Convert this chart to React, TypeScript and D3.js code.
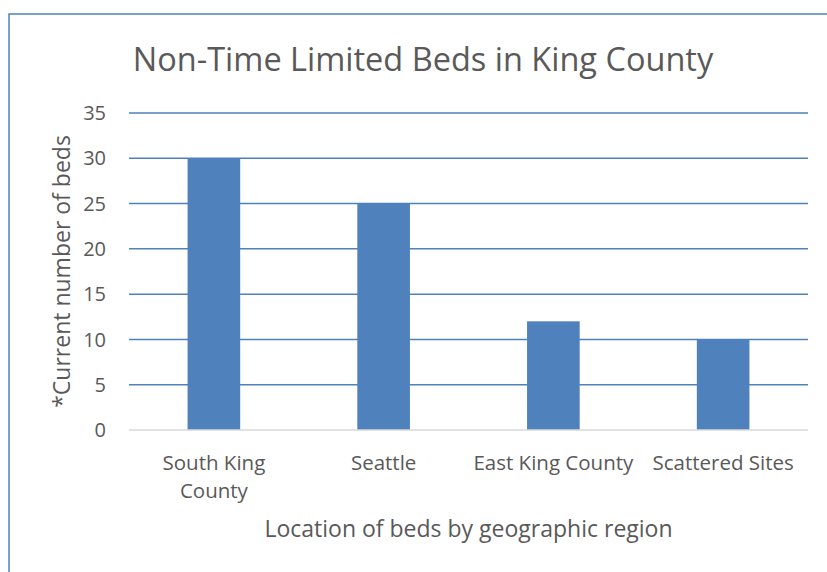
import React from 'react';
import * as d3 from 'd3';

// chart data
const categories: string[][] = [['South King', 'County'], ['Seattle'], ['East King County'], ['Scattered Sites']];
const beds: number[] = [30, 25, 12, 10];
const yTicks: number[] = [0, 5, 10, 15, 20, 25, 30, 35];

const W = 827;
const H = 572;
const plot = { left: 129, right: 808, top: 113, bottom: 430 };
const blue = '#4f81bd';
const grey = '#595959';
const font = "'Open Sans', 'Liberation Sans', sans-serif";

export default function App() {
  const x = d3.scaleBand<number>()
    .domain(categories.map((_, i) => i))
    .range([plot.left, plot.right])
    .paddingInner(0.69)
    .paddingOuter(0.345);
  const y = d3.scaleLinear().domain([0, 35]).range([plot.bottom, plot.top]);

  const cx = (plot.left + plot.right) / 2;
  const cy = (plot.top + plot.bottom) / 2;

  return (
    <svg width={W} height={H} style={{ position: 'absolute', left: 0, top: 0, background: '#fff' }} fontFamily={font}>
      {/* outer chart border */}
      <rect x={9} y={14} width={W + 20} height={H + 20} fill="#fff" stroke={blue} strokeWidth={1.5} />

      <text x={423} y={71} textAnchor="middle" fontSize={32.5} fill={grey}>
        Non-Time Limited Beds in King County
      </text>

      {/* gridlines */}
      {yTicks.filter(t => t > 0).map(t => (
        <line key={t} x1={plot.left} x2={plot.right} y1={y(t)} y2={y(t)} stroke={blue} strokeWidth={1.5} />
      ))}

      {/* bars */}
      {beds.map((v, i) => (
        <rect key={i} x={x(i)} y={y(v)} width={x.bandwidth()} height={y(0) - y(v)} fill={blue} />
      ))}

      {/* baseline */}
      <line x1={plot.left} x2={plot.right} y1={y(0)} y2={y(0)} stroke="#d9d9d9" strokeWidth={1.5} />

      {/* y tick labels */}
      {yTicks.map(t => (
        <text key={t} x={106} y={y(t)} dy="0.36em" textAnchor="end" fontSize={20} fill={grey}>{t}</text>
      ))}

      {/* category labels */}
      {categories.map((lines, i) => (
        <text key={i} x={(x(i) as number) + x.bandwidth() / 2} y={470} textAnchor="middle" fontSize={20.5} fill={grey}>
          {lines.map((l, j) => (
            <tspan key={j} x={(x(i) as number) + x.bandwidth() / 2} dy={j === 0 ? 0 : 28}>{l}</tspan>
          ))}
        </text>
      ))}

      {/* axis titles */}
      <text x={cx} y={537} textAnchor="middle" fontSize={23} fill={grey}>
        Location of beds by geographic region
      </text>
      <text transform={`translate(70, ${cy}) rotate(-90)`} textAnchor="middle" fontSize={23} fill={grey}>
        *Current number of beds
      </text>
    </svg>
  );
}
